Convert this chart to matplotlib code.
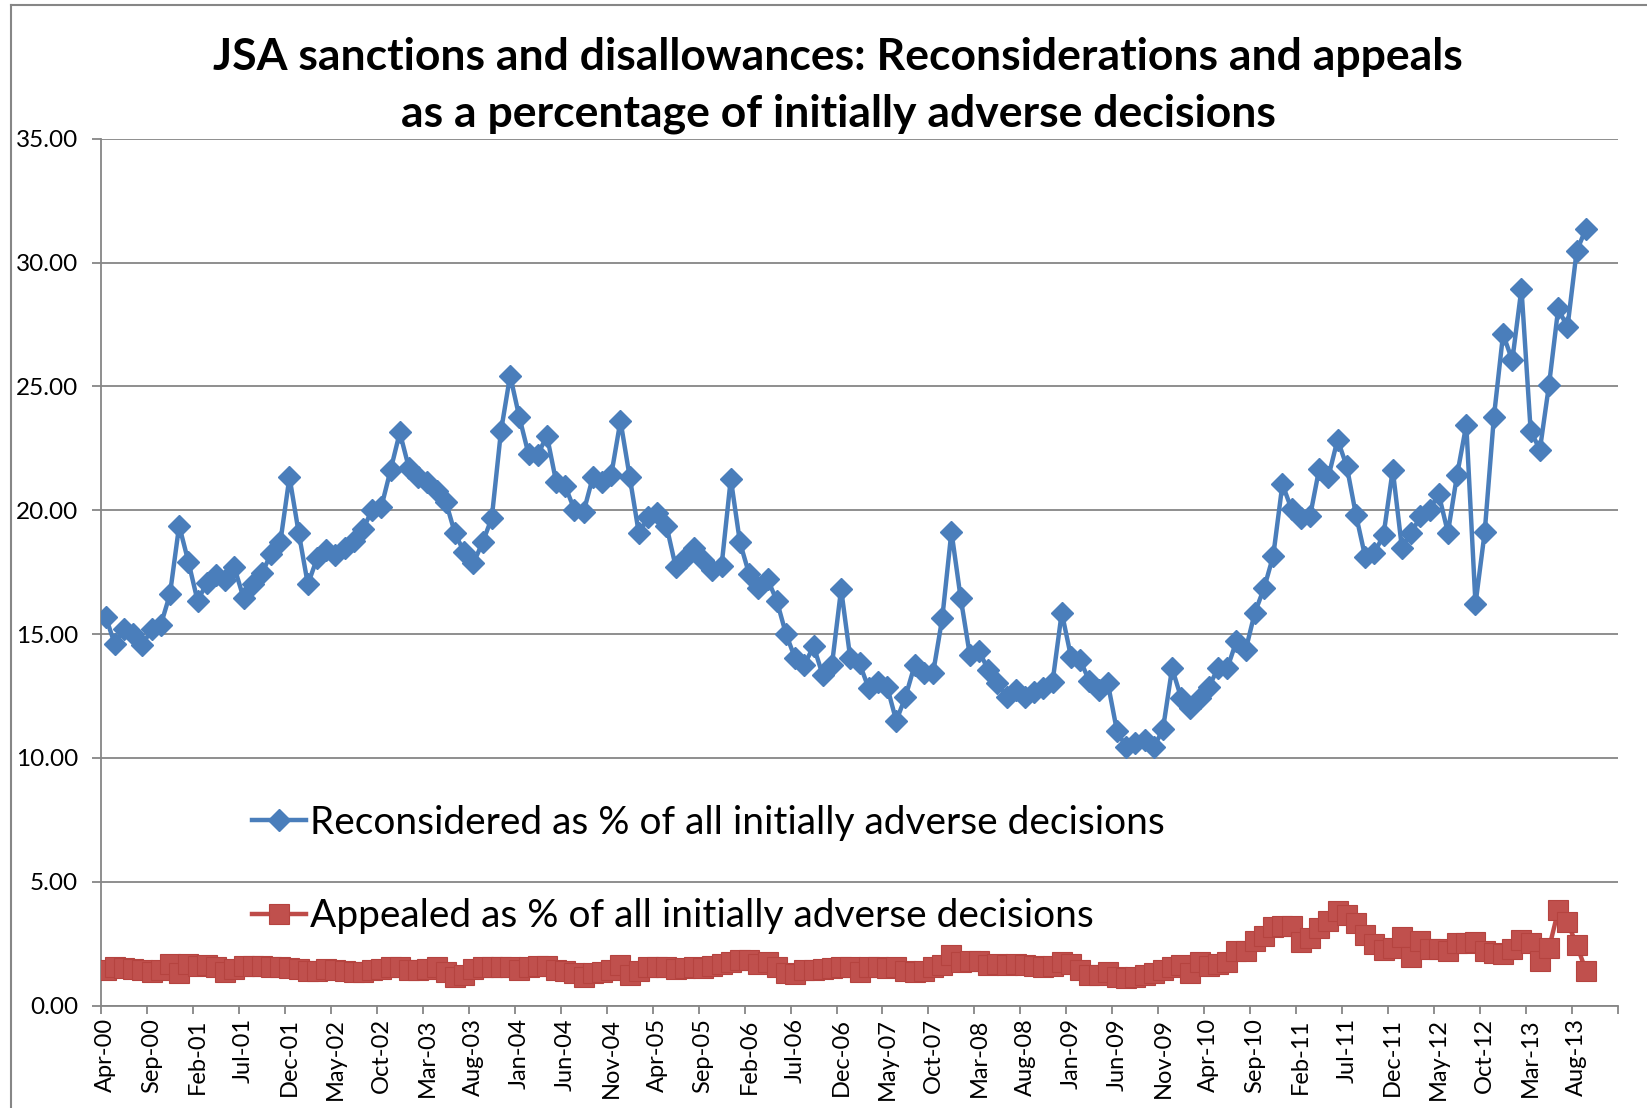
import matplotlib
matplotlib.use('Agg')
import matplotlib.pyplot as plt
from matplotlib.lines import Line2D
import numpy as np
import pandas as pd

plt.rcParams['font.family'] = ['Lato', 'DejaVu Sans']

# monthly categories Apr-00 .. Dec-13 (data runs to Sep-13)
months = pd.date_range('2000-04-01', periods=165, freq='MS')
month_labels = [m.strftime('%b-%y') for m in months]

reconsidered = [
    15.71, 14.60, 15.20, 15.01, 14.56, 15.20, 15.37, 16.61, 19.38, 17.93,
    16.35, 17.05, 17.39, 17.19, 17.70, 16.47, 17.03, 17.46, 18.24, 18.70,
    21.34, 19.10, 17.01, 18.06, 18.40, 18.20, 18.47, 18.74, 19.24, 20.02,
    20.15, 21.63, 23.14, 21.70, 21.34, 21.16, 20.76, 20.35, 19.07, 18.31,
    17.86, 18.70, 19.68, 23.18, 25.44, 23.76, 22.27, 22.24, 23.01, 21.16,
    20.96, 20.02, 19.95, 21.34, 21.16, 21.43, 23.61, 21.36, 19.07, 19.71,
    19.91, 19.38, 17.73, 18.06, 18.49, 18.00, 17.59, 17.77, 21.27, 18.70,
    17.42, 16.88, 17.22, 16.35, 15.01, 14.02, 13.75, 14.52, 13.35, 13.75,
    16.82, 14.02, 13.82, 12.81, 13.08, 12.88, 11.50, 12.47, 13.75, 13.42,
    13.42, 15.64, 19.14, 16.47, 14.16, 14.33, 13.55, 13.01, 12.47, 12.74,
    12.47, 12.68, 12.81, 13.08, 15.87, 14.09, 13.96, 13.10, 12.74, 13.04,
    11.10, 10.43, 10.59, 10.72, 10.43, 11.15, 13.62, 12.41, 12.00, 12.41,
    12.88, 13.62, 13.62, 14.72, 14.36, 15.87, 16.85, 18.16, 21.05, 20.04,
    19.68, 19.75, 21.67, 21.36, 22.85, 21.77, 19.81, 18.13, 18.27, 19.01,
    21.63, 18.47, 19.07, 19.75, 20.02, 20.65, 19.10, 21.43, 23.45, 16.22,
    19.11, 23.76, 27.11, 26.05, 28.95, 23.21, 22.44, 25.07, 28.15, 27.38,
    30.45, 31.36,
]

appealed = [
    1.45, 1.55, 1.52, 1.50, 1.45, 1.35, 1.45, 1.70, 1.30, 1.68,
    1.62, 1.65, 1.55, 1.35, 1.50, 1.62, 1.60, 1.62, 1.58, 1.55,
    1.52, 1.50, 1.40, 1.42, 1.48, 1.45, 1.40, 1.35, 1.35, 1.45,
    1.50, 1.55, 1.58, 1.45, 1.45, 1.50, 1.55, 1.35, 1.15, 1.25,
    1.50, 1.58, 1.55, 1.55, 1.55, 1.45, 1.55, 1.62, 1.60, 1.45,
    1.40, 1.30, 1.15, 1.30, 1.35, 1.45, 1.65, 1.25, 1.40, 1.55,
    1.58, 1.55, 1.50, 1.52, 1.55, 1.52, 1.60, 1.68, 1.75, 1.85,
    1.85, 1.70, 1.75, 1.55, 1.30, 1.28, 1.45, 1.45, 1.50, 1.52,
    1.58, 1.58, 1.35, 1.55, 1.55, 1.52, 1.55, 1.40, 1.35, 1.40,
    1.55, 1.65, 2.05, 1.75, 1.80, 1.80, 1.65, 1.70, 1.65, 1.68,
    1.65, 1.60, 1.55, 1.60, 1.78, 1.70, 1.45, 1.25, 1.25, 1.35,
    1.15, 1.12, 1.15, 1.25, 1.30, 1.45, 1.58, 1.65, 1.34, 1.76,
    1.61, 1.70, 1.78, 2.19, 2.22, 2.62, 2.80, 3.18, 3.20, 3.23,
    2.59, 2.73, 3.14, 3.41, 3.81, 3.65, 3.34, 2.86, 2.50, 2.26,
    2.32, 2.76, 1.96, 2.61, 2.30, 2.30, 2.22, 2.53, 2.55, 2.59,
    2.19, 2.12, 2.08, 2.28, 2.64, 2.55, 1.81, 2.32, 3.85, 3.36,
    2.47, 1.42,
]

title_1 = 'JSA sanctions and disallowances: Reconsiderations and appeals'
title_2 = 'as a percentage of initially adverse decisions'

grey = '#868686'

fig = plt.figure(figsize=(16.47, 11.08), dpi=100)
ax = fig.add_axes([101 / 1647, 1 - 1005.7 / 1108, (1618 - 101) / 1647, (1005.7 - 138.7) / 1108])

x = np.arange(len(reconsidered))
ax.plot(x, reconsidered, color='#4A7EBB', lw=3.2, marker='D', ms=11,
        mfc='#4A7EBB', mec='#4A7EBB', label='Reconsidered as % of all initially adverse decisions', zorder=3)
ax.plot(np.arange(len(appealed)), appealed, color='#BE4B48', lw=3.2, marker='s', ms=14.5,
        mfc='#C0504D', mec='#B5433F', mew=0.8, label='Appealed as % of all initially adverse decisions', zorder=3)

ax.set_ylim(0, 35)
ax.set_yticks(np.arange(0, 36, 5))
ax.set_yticklabels(['%.2f' % v for v in np.arange(0, 36, 5)])
ax.yaxis.grid(True, color=grey, lw=1.3)
ax.set_axisbelow(True)

ax.set_xlim(-0.5, len(months) - 0.5)
ax.set_xticks(np.arange(0, len(months), 5))
ax.set_xticklabels(month_labels[::5], rotation=90)
ax.set_xticks(np.arange(-0.5, len(months), 5), minor=True)
ax.tick_params(axis='x', which='major', length=0, pad=9, labelsize=17)
ax.tick_params(axis='x', which='minor', length=6, width=1.3, color=grey)
ax.tick_params(axis='y', length=6.5, width=1.3, color=grey, pad=10, labelsize=17.5)

for s in ['top', 'right']:
    ax.spines[s].set_visible(False)
for s in ['left', 'bottom']:
    ax.spines[s].set_color(grey)
    ax.spines[s].set_linewidth(1.3)

ax.legend(loc='upper left', bbox_to_anchor=(0.0995, 0.232), frameon=False, fontsize=28,
          borderpad=0, handlelength=1.4, handletextpad=0.1, labelspacing=1.48, borderaxespad=0)

fig.text(838 / 1647, 1 - 57 / 1108, title_1, ha='center', va='center', fontsize=32, fontweight='bold')
fig.text(838 / 1647, 1 - 114 / 1108, title_2, ha='center', va='center', fontsize=32, fontweight='bold')

# chart area border
fig.add_artist(Line2D([11 / 1647, 1], [1 - 5 / 1108, 1 - 5 / 1108], transform=fig.transFigure, color=grey, lw=1.5))
fig.add_artist(Line2D([11 / 1647, 11 / 1647], [0, 1 - 5 / 1108], transform=fig.transFigure, color=grey, lw=1.5))

fig.savefig('out.png', dpi=100)
